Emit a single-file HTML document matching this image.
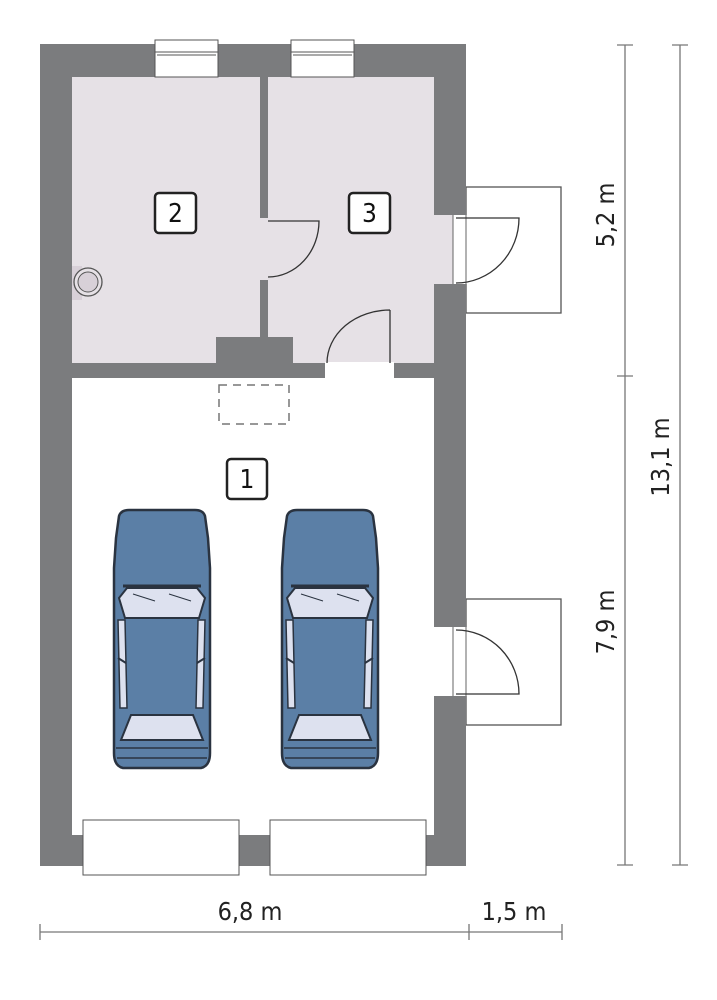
<!DOCTYPE html>
<html><head><meta charset="utf-8"><style>
html,body{margin:0;padding:0;background:#fff;width:717px;height:1000px;overflow:hidden}
text{font-family:"DejaVu Sans Condensed","Liberation Sans Narrow","Liberation Sans",sans-serif}
</style></head><body>
<svg width="717" height="1000" viewBox="0 0 717 1000" xmlns="http://www.w3.org/2000/svg">
<defs>
<g id="car">
  <path d="M6,8 Q8,2 16,2 L82,2 Q90,2 92,8 L95,30 L97,60 L97,245 Q97,258 88,260 L10,260 Q1,258 1,245 L1,60 L3,30 Z" fill="#5b7fa6" stroke="#2a3340" stroke-width="2.5"/>
  <path d="M6,90 L14,80 L84,80 L92,90 L86,110 L12,110 Z" fill="#dde1ef" stroke="#2a3340" stroke-width="2"/>
  <path d="M10,78 L88,78" stroke="#2a3340" stroke-width="3"/>
  <path d="M20,86 L42,93 M56,86 L78,93" stroke="#2a3340" stroke-width="1"/>
  <path d="M5,112 L12,112 L14,200 L7,200 Z" fill="#dde1ef" stroke="#2a3340" stroke-width="1.5"/>
  <path d="M92,112 L85,112 L83,200 L90,200 Z" fill="#dde1ef" stroke="#2a3340" stroke-width="1.5"/>
  <path d="M5,150 L13,155 M92,150 L84,155" stroke="#2a3340" stroke-width="2"/>
  <path d="M8,232 L18,207 L80,207 L90,232 Z" fill="#dde1ef" stroke="#2a3340" stroke-width="2"/>
  <path d="M3,240 L95,240 M4,250 L94,250" stroke="#2a3340" stroke-width="1.5"/>
</g>
</defs>
<rect x="466" y="187" width="95" height="126" fill="#fff" stroke="#555" stroke-width="1.3"/>
<rect x="466" y="599" width="95" height="126" fill="#fff" stroke="#555" stroke-width="1.3"/>
<rect x="40" y="44" width="426" height="822" fill="#7b7c7e"/>
<rect x="72" y="77" width="188" height="286" fill="#e6e1e6"/>
<rect x="268" y="77" width="166" height="286" fill="#e6e1e6"/>
<rect x="260" y="218" width="8" height="62" fill="#e6e1e6"/>
<rect x="216" y="337" width="77" height="30" fill="#7b7c7e"/>
<rect x="260" y="337" width="8" height="30" fill="#7b7c7e"/>
<rect x="72" y="378" width="362" height="457" fill="#fff"/>
<rect x="325" y="362" width="69" height="17" fill="#fff"/>
<rect x="433" y="215" width="34" height="69" fill="#fff"/>
<rect x="433" y="627" width="34" height="69" fill="#fff"/>
<rect x="433" y="215" width="20" height="69" fill="#e6e1e6"/>
<path d="M453,215 L453,284 M466,215 L466,284" stroke="#666" stroke-width="1"/>
<path d="M453,627 L453,696 M466,627 L466,696" stroke="#666" stroke-width="1"/>
<g fill="none" stroke="#333" stroke-width="1.3">
  <path d="M268,221 L319,221 A51,56 0 0 1 268,277"/>
  <path d="M390,310 L390,363 M390,310 A63,53 0 0 0 327,363"/>
  <path d="M456,218 L519,218 A63,65 0 0 1 456,283"/>
  <path d="M456,694 L519,694 A63,64 0 0 0 456,630"/>
</g>
<rect x="155" y="40" width="63" height="37" fill="#fff" stroke="#555" stroke-width="1"/>
<path d="M155,52 L218,52 M157,55 L216,55" stroke="#555" stroke-width="1"/>
<rect x="291" y="40" width="63" height="37" fill="#fff" stroke="#555" stroke-width="1"/>
<path d="M291,52 L354,52 M293,55 L352,55" stroke="#555" stroke-width="1"/>
<rect x="83" y="820" width="156" height="55" fill="#fff" stroke="#555" stroke-width="1"/>
<rect x="270" y="820" width="156" height="55" fill="#fff" stroke="#555" stroke-width="1"/>
<rect x="72" y="266" width="10" height="34" fill="#d8d0d8"/>
<circle cx="88" cy="282" r="14" fill="#e6e1e6" stroke="#555" stroke-width="1.3"/>
<circle cx="88" cy="282" r="10" fill="#d8d0d8" stroke="#555" stroke-width="1"/>
<rect x="219" y="385" width="70" height="39" fill="none" stroke="#777" stroke-width="1.5" stroke-dasharray="8,6"/>
<g fill="#fff" stroke="#222" stroke-width="2.5">
<rect x="155" y="193" width="41" height="40" rx="4"/>
<rect x="349" y="193" width="41" height="40" rx="4"/>
<rect x="227" y="459" width="40" height="40" rx="4"/>
</g>
<g font-size="26" text-anchor="middle" fill="#111">
<text x="175.5" y="222">2</text>
<text x="369.5" y="222">3</text>
<text x="247" y="488">1</text>
</g>
<use href="#car" x="113" y="508"/>
<use href="#car" x="281" y="508"/>
<g stroke="#777" stroke-width="1.3">
<path d="M625,45 L625,865 M680,45 L680,865 M617,45 L633,45 M672,45 L688,45 M617,376 L633,376 M617,865 L633,865 M672,865 L688,865"/>
<path d="M40,932 L562,932 M40,924 L40,940 M469,924 L469,940 M562,924 L562,940"/>
</g>
<g font-size="25" fill="#222" text-anchor="middle">
<text x="250" y="920">6,8 m</text>
<text x="514" y="920">1,5 m</text>
<text transform="translate(614,215) rotate(-90)">5,2 m</text>
<text transform="translate(614,622) rotate(-90)">7,9 m</text>
<text transform="translate(669,457) rotate(-90)">13,1 m</text>
</g>
</svg>
</body></html>
